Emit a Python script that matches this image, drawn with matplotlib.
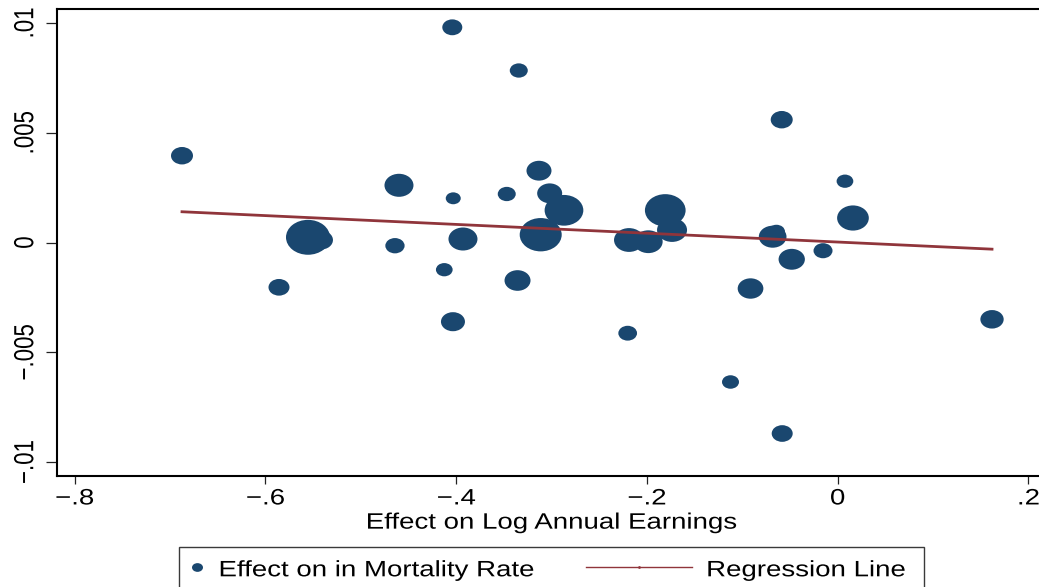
import numpy as np
import matplotlib
matplotlib.use("Agg")
import matplotlib.pyplot as plt
from matplotlib.path import Path
from matplotlib.markers import MarkerStyle
from matplotlib.transforms import Affine2D
from matplotlib.patheffects import AbstractPathEffect
from matplotlib.lines import Line2D
from matplotlib.legend_handler import HandlerLine2D
from matplotlib.patches import Rectangle
from matplotlib.font_manager import FontProperties

# ---------------- data ----------------
earnings_effect = [-0.6875, -0.4041, -0.3344, -0.0587, -0.4600, -0.4031, -0.3470,
                   -0.3132, -0.3020, -0.2870, -0.3114, -0.1808, -0.1737, -0.2188,
                   -0.1986, -0.0682, -0.0642, -0.0482, -0.0154, 0.0076, 0.0160,
                   -0.0914, -0.5554, -0.5418, -0.4642, -0.3929, -0.4125, -0.3357,
                   -0.5858, -0.4034, -0.2202, -0.1124, -0.0582, 0.1618]
mortality_effect = [0.003954, 0.009804, 0.007836, 0.005595, 0.002606, 0.002014, 0.002210,
                    0.003271, 0.002241, 0.001467, 0.000355, 0.001467, 0.000569, 0.000114,
                    0.000036, 0.000264, 0.000501, -0.000765, -0.000374, 0.002793, 0.001116,
                    -0.002096, 0.000237, 0.000114, -0.000146, 0.000159, -0.001239, -0.001731,
                    -0.002041, -0.003608, -0.004132, -0.006355, -0.008702, -0.003499]
cell_weight = [4.84, 4.00, 3.24, 4.84, 8.41, 2.25, 3.24,
               6.25, 6.25, 14.98, 17.64, 16.56, 9.00, 9.00,
               8.24, 7.67, 2.89, 6.92, 3.61, 2.79, 10.05,
               6.60, 19.36, 5.76, 3.72, 8.41, 2.79, 6.76,
               4.41, 5.76, 3.50, 2.89, 4.41, 5.43]
fit_intercept = 0.0000212
fit_slope = -0.0020071

x_ticks = [-0.8, -0.6, -0.4, -0.2, 0.0, 0.2]
x_tick_labels = ["\u2212.8", "\u2212.6", "\u2212.4", "\u2212.2", "0", ".2"]
y_ticks = [-0.01, -0.005, 0.0, 0.005, 0.01]
y_tick_labels = ["\u2212.01", "\u2212.005", "0", ".005", ".01"]
x_title = "Effect on Log Annual Earnings"
legend_labels = ["Effect on in Mortality Rate", "Regression Line"]

# ---------------- style ----------------
NAVY = "#1a476f"
MAROON = "#90353b"
W, H, DPI = 1039, 587, 100
FS = 19.9            # font size (pt) along the text direction
TEXT_SQ = 1 / 1.24   # glyph-height squash (reference is horizontally stretched)
MARKER_ASPECT = 1.26

plt.rcParams['font.family'] = ['Liberation Sans', 'DejaVu Sans']


class GlyphScale(AbstractPathEffect):
    """Scale glyph outlines in text-local coordinates."""
    def __init__(self, sx=1.0, sy=1.0, about_center=False):
        super().__init__()
        self.sx, self.sy, self.about_center = sx, sy, about_center

    def draw_path(self, renderer, gc, tpath, affine, rgbFace=None):
        cx = 0.0
        if self.about_center:
            ext = tpath.get_extents()
            cx = 0.5 * (ext.x0 + ext.x1)
        pre = Affine2D().translate(-cx, 0).scale(self.sx, self.sy).translate(cx, 0)
        renderer.draw_path(gc, tpath, pre + affine, rgbFace)


class ShiftedLineHandler(HandlerLine2D):
    def __init__(self, length, shift, **kw):
        super().__init__(**kw)
        self.length, self.shift = length, shift

    def get_xdata(self, legend, xdescent, ydescent, width, height, fontsize):
        x1 = -xdescent + width + self.shift
        x0 = x1 - self.length
        return [x0, x1], [0.5 * (x0 + x1)]


fig = plt.figure(figsize=(W / DPI, H / DPI), dpi=DPI)
fig.patch.set_facecolor("white")
ax = fig.add_axes([57 / W, 1 - 475.7 / H, (1045 - 57) / W, (475.7 - 9) / H])
ax.set_facecolor("white")

ellipse = Path.unit_circle().transformed(Affine2D().scale(MARKER_ASPECT, 1.0))
emarker = MarkerStyle(ellipse)

xe = np.array(earnings_effect)
ye = np.array(mortality_effect)
wt = np.array(cell_weight)
ax.scatter(xe, ye, s=51.84 * wt, marker=emarker, c=NAVY, linewidths=0, zorder=2)

xs = np.array([xe.min(), xe.max()])
ax.plot(xs, fit_intercept + fit_slope * xs, color=MAROON, lw=2.0, zorder=3)

ax.set_xlim(-0.81856, 0.21735)
ax.set_ylim(-0.010624, 0.010638)

for s in ["left", "top", "bottom"]:
    ax.spines[s].set_linewidth(1.5)
    ax.spines[s].set_color("black")
ax.spines["right"].set_visible(False)

ax.set_xticks(x_ticks, x_tick_labels)
ax.set_yticks(y_ticks, y_tick_labels)
ax.tick_params(axis="x", direction="out", length=6, width=0.9, pad=0.3,
               labelsize=FS, color="#222222")
ax.tick_params(axis="y", direction="out", length=8.1, width=0.9, pad=4.7,
               labelsize=FS, labelrotation=90, color="#222222")
for lbl in ax.get_yticklabels():
    lbl.set_va("center")

ax.set_xlabel(x_title, fontsize=FS, labelpad=-1.3)

# ---------------- legend ----------------
fp = FontProperties(family=['Liberation Sans', 'DejaVu Sans'], size=FS)
renderer = fig.canvas.get_renderer()
w1, _, _ = renderer.get_text_width_height_descent(legend_labels[0], fp, ismath=False)
fs_px = FS * DPI / 72

h_scatter = Line2D([], [], ls="none", marker=emarker, ms=11 * 0.72, color=NAVY, mew=0)
h_line = Line2D([], [], color=MAROON, lw=1.0, marker="o", ms=2, mew=0)
leg = ax.legend([h_scatter, h_line], legend_labels, ncol=2, loc="center left",
                bbox_to_anchor=(192.3 / W, 1 - 569.3 / H), bbox_transform=fig.transFigure,
                frameon=False, borderpad=0, borderaxespad=0,
                handlelength=10 / fs_px, handletextpad=16.2 / fs_px,
                columnspacing=(461.4 - w1) / fs_px, handleheight=0.7,
                numpoints=1, fontsize=FS,
                handler_map={h_line: ShiftedLineHandler(105.7 * 0.72, 1.8 * 0.72)})

fig.add_artist(Rectangle((178.7 / W, -0.1), (924.3 - 178.7) / W, (H - 546.7) / H + 0.1,
                         transform=fig.transFigure, fill=False, ec="#3a3a3a", lw=1.0))

# ---------------- glyph squash ----------------
sq_h = [GlyphScale(sy=TEXT_SQ)]
sq_v = [GlyphScale(sx=TEXT_SQ, about_center=True)]
for lbl in ax.get_xticklabels():
    lbl.set_path_effects(sq_h)
for lbl in ax.get_yticklabels():
    lbl.set_path_effects(sq_v)
ax.xaxis.label.set_path_effects(sq_h)
for t in leg.get_texts():
    t.set_path_effects(sq_h)

fig.savefig("out.png", dpi=DPI)
